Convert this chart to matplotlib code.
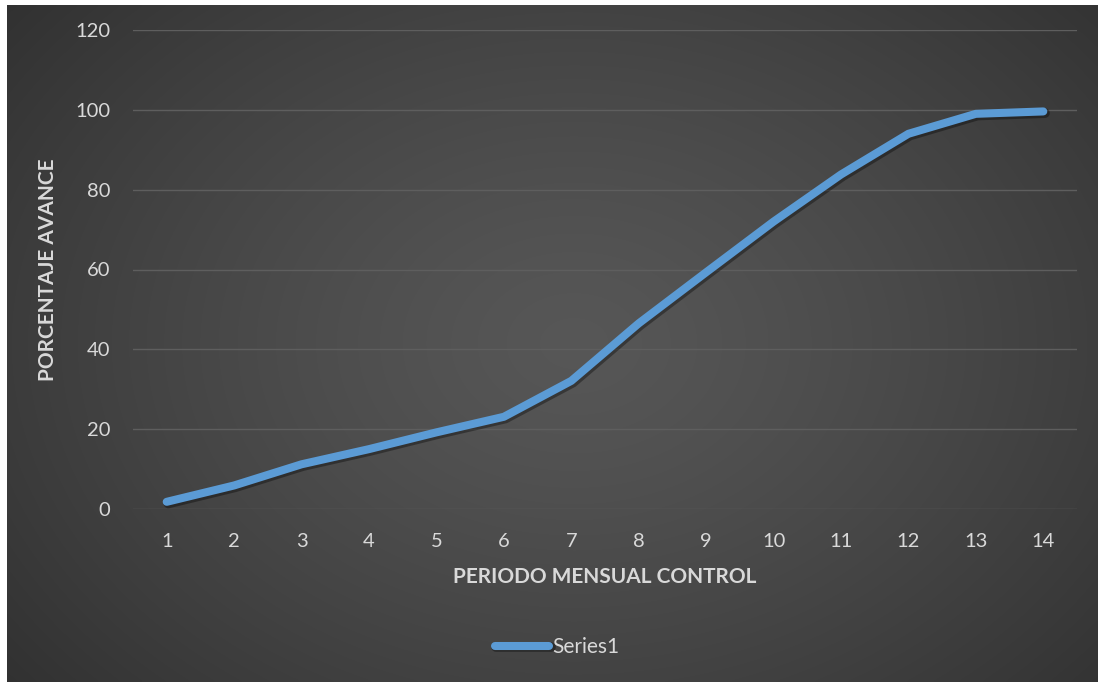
import numpy as np
import matplotlib
matplotlib.use("Agg")
import matplotlib.pyplot as plt
import matplotlib.patheffects as pe

periodos = list(range(1, 15))
avance = [1.8, 5.9, 11.2, 15.0, 19.2, 23.1, 32.1, 46.5, 59.3, 72.0, 83.8, 94.0, 99.0, 99.6]
y_ticks = [0, 20, 40, 60, 80, 100, 120]

W, H = 1098, 682
fig = plt.figure(figsize=(W / 100, H / 100), dpi=100, facecolor="white")

# fondo oscuro con degradado radial (estilo Excel)
bg = fig.add_axes([7 / W, 0, 1 - 7 / W, 1 - 5 / H])
bg.set_axis_off()
yy, xx = np.mgrid[0:1:300j, 0:1:480j]
r = np.sqrt(((xx - 0.52) / 0.75) ** 2 + ((yy - 0.5) / 0.9) ** 2)
r = np.clip(r, 0, 1)
c0, c1 = 0.34, 0.17
img = c0 + (c1 - c0) * r ** 1.3
bg.imshow(np.dstack([img, img, img]), aspect="auto", extent=[0, 1, 0, 1], interpolation="bicubic")
bg.set_xlim(0, 1)
bg.set_ylim(0, 1)

sombra = [pe.SimpleLineShadow(offset=(1.2, -1.2), shadow_color="black", alpha=0.35, linewidth=7),
          pe.Normal()]

ax = fig.add_axes([133 / W, 173 / H, 944 / W, 479 / H])
ax.patch.set_alpha(0)
ax.plot(periodos, avance, color="#5b9bd5", lw=5.8, solid_capstyle="round", solid_joinstyle="round",
        label="Series1", path_effects=sombra)
ax.set_xlim(0.5, 14.5)
ax.set_ylim(0, 120)
ax.set_xticks(periodos)
ax.set_yticks(y_ticks)
ax.grid(axis="y", color="#5e5e5e", lw=1)
ax.set_axisbelow(True)
for s in ax.spines.values():
    s.set_visible(False)
ax.tick_params(length=0, colors="#d9d9d9", labelsize=14.5)
ax.tick_params(axis="x", pad=17)
ax.tick_params(axis="y", pad=16.5)
for lbl in ax.get_xticklabels() + ax.get_yticklabels():
    lbl.set_family("Lato")

fig.text(605 / W, 1 - 577 / H, "PERIODO MENSUAL CONTROL", ha="center", va="center",
         color="#d9d9d9", fontsize=15, fontweight="bold", family="Lato")
fig.text(48 / W, 1 - 270 / H, "PORCENTAJE AVANCE", ha="center", va="center", rotation=90,
         color="#d9d9d9", fontsize=15, fontweight="bold", family="Lato")

leg = fig.legend(loc="center", bbox_to_anchor=(557 / W, 1 - 647 / H), frameon=False,
                 handlelength=2.6, handletextpad=0.15, prop={"family": "Lato", "size": 15})
for t in leg.get_texts():
    t.set_color("#d9d9d9")

fig.savefig("out.png", dpi=100, facecolor="white")
